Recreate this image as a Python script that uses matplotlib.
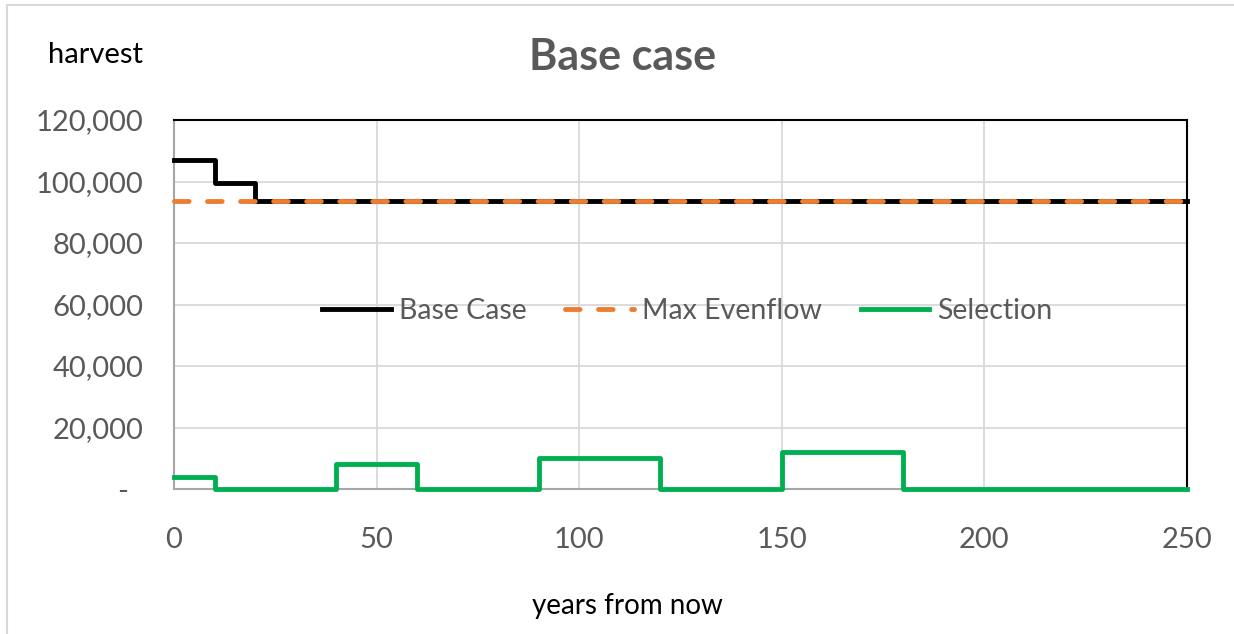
import matplotlib.pyplot as plt
from matplotlib.patches import Rectangle
from matplotlib.ticker import FixedLocator

# step data (value holds from this year until the next one)
base_years = [0, 10, 20, 250]
base_harvest = [107000, 99500, 93700, 93700]

evenflow_years = [0, 250]
evenflow_harvest = [93700, 93700]

sel_years = [0, 10, 40, 60, 90, 120, 150, 180, 250]
sel_harvest = [4000, 0, 8000, 0, 10000, 0, 12000, 0, 0]

x_ticks = [0, 50, 100, 150, 200, 250]
y_ticks = [0, 20000, 40000, 60000, 80000, 100000, 120000]
y_tick_labels = ['-  ', '20,000', '40,000', '60,000', '80,000', '100,000', '120,000']

plt.rcParams['font.family'] = ['Lato', 'DejaVu Sans']

W, H = 1234, 634
fig = plt.figure(figsize=(W / 100, H / 100), dpi=100)

# plot area in pixels: left 174, right 1187, top 120, bottom 489
ax = fig.add_axes([174 / W, 1 - 489 / H, (1187 - 174) / W, (489 - 120) / H])

ax.step(base_years, base_harvest, where='post', color='black', lw=3.5,
        label='Base Case', zorder=3, clip_on=False)
ax.plot(evenflow_years, evenflow_harvest, color='#ED7D31', lw=3.5,
        dashes=(3, 3.8), dash_capstyle='round', label='Max Evenflow', zorder=4,
        clip_on=False)
ax.step(sel_years, sel_harvest, where='post', color='#00B050', lw=3.5,
        label='Selection', zorder=3, clip_on=False)

ax.set_xlim(0, 250)
ax.set_ylim(0, 120000)
ax.xaxis.set_major_locator(FixedLocator(x_ticks))
ax.yaxis.set_major_locator(FixedLocator(y_ticks))
ax.set_yticklabels(y_tick_labels)
ax.tick_params(length=0, labelsize=21, colors='#595959')
ax.tick_params(axis='y', pad=22)
ax.tick_params(axis='x', pad=27)
ax.grid(True, color='#D9D9D9', lw=1.3)
ax.set_axisbelow(True)

for s in ['top', 'right']:
    ax.spines[s].set_color('black')
    ax.spines[s].set_linewidth(1.5)
for s in ['left', 'bottom']:
    ax.spines[s].set_color('#A6A6A6')
    ax.spines[s].set_linewidth(1.5)

leg = ax.legend(loc='center', bbox_to_anchor=(0.507, 0.482), ncol=3,
                frameon=False, fontsize=20.5, handlelength=2.4,
                handletextpad=0.3, columnspacing=1.35)
for t in leg.get_texts():
    t.set_color('#595959')

fig.text(623 / W, 1 - 57 / H, 'Base case', ha='center', va='center',
         fontsize=31, fontweight='bold', color='#595959')
fig.text(95 / W, 1 - 55 / H, 'harvest', ha='center', va='center',
         fontsize=21, color='black')
fig.text(627 / W, 1 - 606 / H, 'years from now', ha='center', va='center',
         fontsize=20, color='black')

# chart border (only top and left edges fall inside the image)
fig.patches.append(Rectangle((7 / W, -0.1), 1.2, 1 - 5 / H + 0.1,
                             transform=fig.transFigure, fill=False,
                             edgecolor='#D9D9D9', lw=1.5))

fig.savefig('out.png', dpi=100)
